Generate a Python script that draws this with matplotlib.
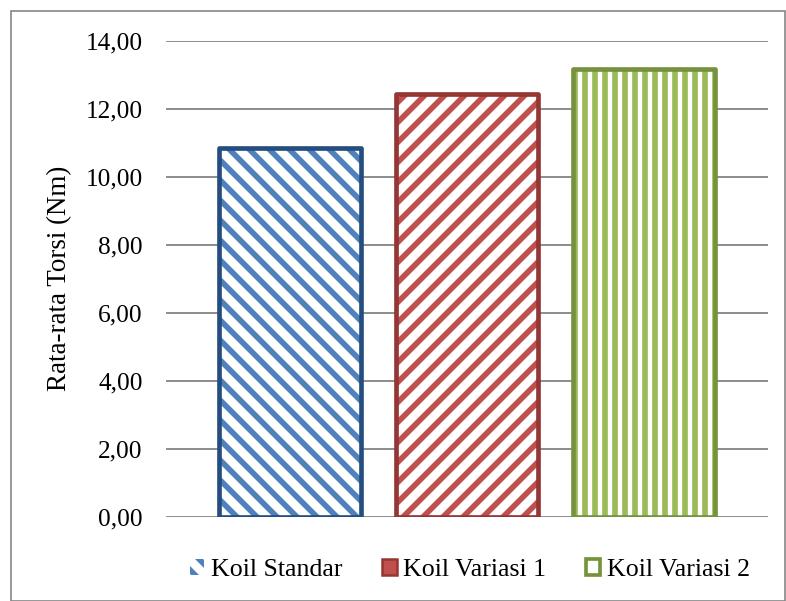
import matplotlib
matplotlib.use("Agg")
import matplotlib.pyplot as plt
from matplotlib.patches import Patch, Rectangle
from matplotlib.ticker import FuncFormatter

# Average torque per coil type
categories = ["Koil Standar", "Koil Variasi 1", "Koil Variasi 2"]
torque = [10.86, 12.45, 13.19]
y_ticks = [0, 2, 4, 6, 8, 10, 12, 14]

stripe_colors = ["#4F81BD", "#C0504D", "#9BBB59"]
border_colors = ["#254E7F", "#943634", "#76923C"]
hatches = ["\\\\", "//", "||"]

plt.rcParams["font.family"] = ["Liberation Serif", "DejaVu Serif"]
plt.rcParams["hatch.linewidth"] = 3.4

fig = plt.figure(figsize=(786 / 120, 601 / 120), dpi=120)
ax = fig.add_axes([166 / 786, 1 - 516.5 / 601, (768 - 166) / 786, (516.5 - 41) / 601])

x = list(range(len(categories)))
width = 0.8

# Striped fill, then a rounded border drawn on top
for xi, val, sc, bc, h in zip(x, torque, stripe_colors, border_colors, hatches):
    ax.bar(xi, val, width=width, color="white", edgecolor=sc, hatch=h,
           linewidth=0, zorder=3)
    ax.bar(xi, val, width=width, fill=False, edgecolor=bc, linewidth=2.8,
           joinstyle="round", zorder=4)

ax.set_xlim(-0.7, 2.7)
ax.set_ylim(0, 14)
ax.set_yticks(y_ticks)
ax.yaxis.set_major_formatter(FuncFormatter(lambda v, p: f"{v:.2f}".replace(".", ",")))
ax.set_xticks([])
ax.tick_params(axis="y", length=0, pad=14, labelsize=15.2)
ax.grid(axis="y", color="#868686", linewidth=1.1, zorder=0)
for s in ax.spines.values():
    s.set_visible(False)
ax.set_ylabel("Rata-rata Torsi (Nm)", fontsize=16.2, labelpad=8)

handles = [
    Patch(facecolor="white", edgecolor=stripe_colors[0], hatch="\\\\", linewidth=0),
    Patch(facecolor=stripe_colors[1], edgecolor=border_colors[1], linewidth=1.5),
    Patch(facecolor="white", edgecolor=border_colors[2], linewidth=2.2),
]
fig.legend(handles, categories, loc="center", bbox_to_anchor=(470 / 786, 1 - 570 / 601),
           ncol=3, frameon=False, fontsize=15.5, handlelength=0.55, handleheight=0.55,
           handletextpad=0.25, columnspacing=1.55)

# Outer chart frame
fig.patches.append(Rectangle((11 / 786, 0.5 / 601), (785 - 11) / 786, (601 - 11.5) / 601,
                             transform=fig.transFigure, fill=False,
                             edgecolor="#868686", linewidth=1.0))

fig.savefig("out.png", dpi=120)
